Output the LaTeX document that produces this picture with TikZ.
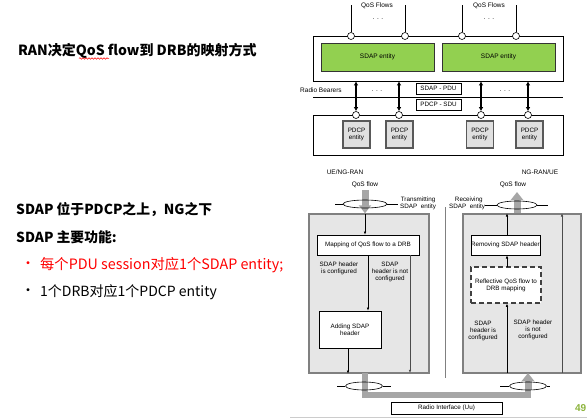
\documentclass[tikz,border=0pt]{standalone}
\usepackage{fontspec}
\setmainfont{Liberation Sans}
\newfontfamily\cjk{Noto Sans CJK SC}
\usetikzlibrary{arrows.meta,shapes.geometric,decorations.pathmorphing}
\definecolor{sgreen}{RGB}{146,208,80}
\definecolor{lgray}{RGB}{230,230,230}
\definecolor{mgray}{RGB}{128,128,128}
\definecolor{agray}{RGB}{166,166,166}
\definecolor{pgnum}{RGB}{140,180,60}
\begin{document}
\begin{tikzpicture}[x=1pt,y=-1pt,
  tiny/.style={font=\fontsize{6.3}{7}\selectfont, align=center, inner sep=0},
  lbl/.style={font=\fontsize{6.5}{7.5}\selectfont, align=center, inner sep=0},
  rbox/.style={draw, rectangle, inner sep=0, line width=0.6pt},
  greenbox/.style={rbox, fill=sgreen, draw=black!80},
  pdcpbox/.style={rbox, fill=black!12, draw=black!65, line width=1.1pt, minimum width=27, minimum height=27},
  bigbox/.style={rbox, fill=lgray, draw=mgray, line width=1.4pt},
  ring/.style={draw, circle, fill=white, inner sep=0, minimum size=7, line width=0.6pt},
  thinarrow/.style={-{Latex[length=3.2pt,width=2.6pt]}, line width=0.6pt},
  grayarrow/.style={draw=agray, line width=7pt, -{Triangle[length=8pt,width=12pt]}},
  grayline/.style={draw=agray, line width=6pt},
  bidir/.style={{Latex[length=4pt,width=4.5pt]}-{Latex[length=4pt,width=4.5pt]}, line width=1.6pt},
  ell/.style={draw, ellipse, inner sep=0, line width=0.6pt},
  cjkb/.style={font=\cjk\bfseries\fontsize{13.8}{16}\selectfont, anchor=west, inner sep=0},
  cjkr/.style={font=\cjk\fontsize{14}{16}\selectfont, anchor=west, inner sep=0}
]
\useasboundingbox (0,0) rectangle (587,418);
\fill[white] (0,0) rectangle (587,418);

% ---------- left texts ----------
\node[cjkb, font=\cjk\bfseries\fontsize{14}{16}\selectfont] (title) at (18,50.5) {RAN决定QoS flow到 DRB的映射方式};
\draw[red, line width=0.5pt, decorate, decoration={snake, amplitude=0.8pt, segment length=3pt}] (79,58.5) -- (109,58.5);
\node[cjkb] (t1) at (16,210) {SDAP 位于PDCP之上，NG之下};
\node[cjkb] (t2) at (16,237) {SDAP 主要功能:};
\node[cjkr, text=red] (b1) at (21,265) {•};
\node[cjkr, text=red, font=\cjk\fontsize{14.3}{16}\selectfont] (t3) at (40,265) {每个PDU session对应1个SDAP entity;};
\node[cjkr] (b2) at (21,292) {•};
\node[cjkr] (t4) at (40,292) {1个DRB对应1个PDCP entity};

% ---------- top diagram ----------
\node[lbl] (qf1) at (377,6) {QoS Flows};
\node[lbl] (qf2) at (489,6) {QoS Flows};
\node[lbl] (d1) at (378,19) {. . .};
\node[lbl] (d2) at (489,19) {. . .};

\node[rbox, minimum width=250, minimum height=45] (outer) at (438,58.5) {};
\node[greenbox, minimum width=113, minimum height=28, lbl] (sdap1) at (377.5,57) {SDAP entity};
\node[greenbox, minimum width=113, minimum height=28, lbl] (sdap2) at (498.5,57) {SDAP entity};

\coordinate (f1) at (351,5);
\coordinate (f2) at (405,5);
\coordinate (f3) at (462,5);
\coordinate (f4) at (516,5);
\node[ring] (c1) at (351,36) {};
\node[ring] (c2) at (405,36) {};
\node[ring] (c3) at (462,36) {};
\node[ring] (c4) at (516,36) {};
\draw[line width=0.6pt] (f1) -- (c1.north);
\draw[line width=0.6pt] (f2) -- (c2.north);
\draw[line width=0.6pt] (f3) -- (c3.north);
\draw[line width=0.6pt] (f4) -- (c4.north);

\node[lbl, anchor=west] (rb) at (300,90) {Radio Bearers};
\coordinate (rl1) at (313,97);
\coordinate (rl2) at (563,97);
\draw[line width=0.6pt] (rl1) -- (rl2);
\node[lbl] (d3) at (377,91) {. . .};
\node[lbl] (d4) at (505,91) {. . .};
\node[rbox, fill=white, minimum width=45, minimum height=11, tiny] (pdu) at (438.5,88.5) {SDAP - PDU};
\node[rbox, fill=white, minimum width=45, minimum height=11, tiny] (sdu) at (438.5,104.5) {PDCP - SDU};

\node[rbox, minimum width=250, minimum height=40] (lower) at (438,135) {};
\node[pdcpbox, tiny] (p1) at (356.5,134.5) {PDCP\\entity};
\node[pdcpbox, tiny] (p2) at (399.5,134.5) {PDCP\\entity};
\node[pdcpbox, tiny] (p3) at (480,134.5) {PDCP\\entity};
\node[pdcpbox, tiny] (p4) at (529.5,134.5) {PDCP\\entity};
\node[ring] (k1) at (356,115) {};
\node[ring] (k2) at (399,115) {};
\node[ring] (k3) at (481,115) {};
\node[ring] (k4) at (528,115) {};
\draw[bidir] (k1.north) -- (k1.north |- outer.south);
\draw[bidir] (k2.north) -- (k2.north |- outer.south);
\draw[bidir] (k3.north) -- (k3.north |- outer.south);
\draw[bidir] (k4.north) -- (k4.north |- outer.south);

\node[lbl] (ue) at (345,172) {UE/NG-RAN};
\node[lbl] (ng) at (540,172) {NG-RAN/UE};

% ---------- lower left: transmitting ----------
\node[lbl] (qfl) at (365,185) {QoS flow};
\node[bigbox, minimum width=120, minimum height=159] (L) at (369,293.5) {};
\coordinate (ga1) at (365,190);
\draw[grayarrow] (ga1) -- (ga1 |- L.north);
\node[ell, minimum width=44, minimum height=8] (e1) at (365,204) {};
\coordinate (e1l) at (335,204);
\coordinate (e1r) at (398,204);
\draw[line width=0.6pt] (e1l) -- (e1.west);
\draw[line width=0.6pt] (e1.east) -- (e1r);
\node[tiny, anchor=west] (tx) at (400,203) {Transmitting\\SDAP\ \ entity};

\node[rbox, fill=white, minimum width=102, minimum height=20, tiny] (map) at (368,245) {Mapping of QoS flow to a DRB};
\node[rbox, fill=white, minimum width=62, minimum height=37, tiny] (add) at (350,329.5) {Adding SDAP\\header};
\coordinate (m1) at (365,214);
\draw[thinarrow] (m1) -- (m1 |- map.north);
\coordinate (m2) at (368,255);
\draw[thinarrow] (m2) -- (m2 |- add.north);
\coordinate (m3) at (410,255);
\draw[thinarrow, draw=black!70] (m3) -- (410,373);
\coordinate (m4) at (348,348);
\draw[thinarrow] (m4) -- (m4 |- L.south);
\node[tiny] (lc1) at (339,268.5) {SDAP header\\is configured};
\node[tiny] (lc2) at (390,272) {SDAP\\header is not\\configured};

% ---------- lower right: receiving ----------
\node[lbl] (qfr) at (513,185) {QoS flow};
\node[bigbox, minimum width=118, minimum height=159] (R) at (522,293.5) {};
\coordinate (ga2) at (517,192);
\draw[grayarrow] (ga2 |- R.north) -- (ga2);
\node[ell, minimum width=40, minimum height=8] (e2) at (517,205) {};
\coordinate (e2l) at (485,205);
\coordinate (e2r) at (548,205);
\draw[line width=0.6pt] (e2l) -- (e2.west);
\draw[line width=0.6pt] (e2.east) -- (e2r);
\node[tiny, anchor=west] (rx) at (449,203) {\ \ Receiving\\SDAP\ \ entity};
\coordinate (v1) at (445,207);
\coordinate (v2) at (445,378);
\draw[mgray, line width=1pt] (v1) -- (v2);

\node[rbox, fill=white, minimum width=69, minimum height=20, tiny] (rem) at (505.5,245) {Removing SDAP header};
\node[rbox, fill=white, dashed, dash pattern=on 5pt off 3pt, line width=1.2pt, draw=black!75, minimum width=70, minimum height=36, tiny] (refl) at (506,285) {Reflective QoS flow to\\DRB mapping};
\coordinate (r1) at (507,235);
\draw[thinarrow] (r1) -- (r1 |- R.north);
\coordinate (r2) at (507,267);
\draw[thinarrow] (r2) -- (r2 |- rem.south);
\coordinate (r3) at (507,373);
\draw[thinarrow] (r3) -- (r3 |- refl.south);
\coordinate (r4) at (562,373);
\draw[thinarrow, draw=black!70] (r4) -- (r4 |- R.north);
\node[tiny] (rc1) at (483,331) {SDAP\\header is\\configured};
\node[tiny] (rc2) at (533,330) {SDAP header\\is not\\configured};

% ---------- radio interface ----------
\coordinate (g1) at (365,395);
\coordinate (g2) at (528,395);
\draw[grayline] (365,373) -- (g1) -- (g2) -- (528,388);
\draw[grayarrow] (528,390) -- (528,373);
\node[ell, minimum width=37, minimum height=8] (e3) at (364,386) {};
\draw[line width=0.6pt] (337,386) -- (e3.west);
\draw[line width=0.6pt] (e3.east) -- (391,386);
\node[ell, minimum width=37, minimum height=8] (e4) at (528,386) {};
\draw[line width=0.6pt] (500,386) -- (e4.west);
\draw[line width=0.6pt] (e4.east) -- (550,386);
\node[rbox, fill=white, minimum width=111, minimum height=12, tiny] (uu) at (446.5,408) {Radio Interface (Uu)};

\draw[black!20, line width=0.8pt] (290,417.5) -- (587,417.5);
\node[font=\bfseries\fontsize{10}{11}\selectfont, text=pgnum, anchor=east, inner sep=0] (pg) at (586.5,408) {49};
\end{tikzpicture}
\end{document}
